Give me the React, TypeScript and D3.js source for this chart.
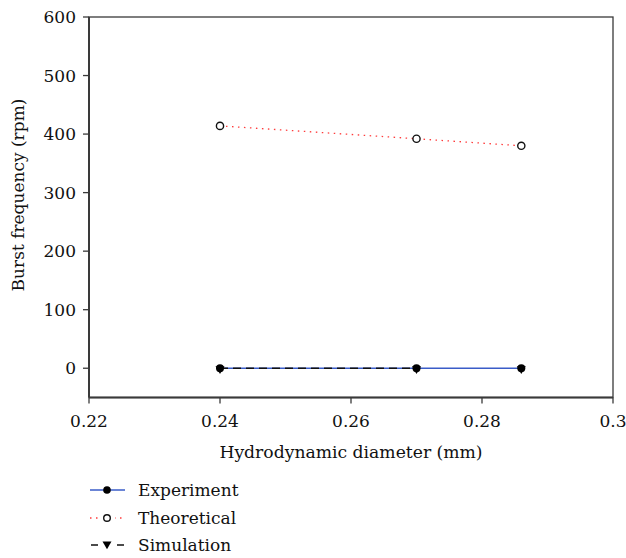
import React from "react";
import * as d3 from "d3";

const diameters = [0.24, 0.27, 0.286];
const experiment = [0, 0, 0];
const theoretical = [414, 392, 380];
const simulation = [0, 0, 0];
const simulationLineCount = 2;
const xTicks = [0.22, 0.24, 0.26, 0.28, 0.3];
const yTicks = [0, 100, 200, 300, 400, 500, 600];
const xTickLabels = ["0.22", "0.24", "0.26", "0.28", "0.3"];
const legendLabels = ["Experiment", "Theoretical", "Simulation"];

const W = 626, H = 558;
const m = { left: 89, right: 613, top: 17, bottom: 397.5 };
const FONT = "DejaVu Serif";
const AXIS = "#3a3a3a";

export default function App() {
  const x = d3.scaleLinear().domain([0.22, 0.3]).range([m.left, m.right]);
  const y = d3.scaleLinear().domain([-50, 600]).range([m.bottom, m.top]);
  const line = d3.line<[number, number]>().x(d => x(d[0])).y(d => y(d[1]));
  const expPts = diameters.map((d, i) => [d, experiment[i]] as [number, number]);
  const thPts = diameters.map((d, i) => [d, theoretical[i]] as [number, number]);
  const simPts = diameters.map((d, i) => [d, simulation[i]] as [number, number]);
  const tri = (cx: number, cy: number, s: number) =>
    `M${cx - s},${cy - s * 0.8}L${cx + s},${cy - s * 0.8}L${cx},${cy + s * 0.95}Z`;

  const legY = [490, 518, 545];
  const lx1 = 90, lx2 = 125, lmx = 107;

  return (
    <svg width={W} height={H} style={{ position: "absolute", left: 0, top: 0, background: "#fff" }}>
      <rect x={0} y={0} width={W} height={H} fill="#fff" />
      <path d={line(expPts) || ""} fill="none" stroke="#3a5cc8" strokeWidth={1.3} />
      <path d={line(simPts.slice(0, simulationLineCount)) || ""} fill="none" stroke="#111" strokeWidth={1.3} strokeDasharray="8,5" />
      <path d={line(thPts) || ""} fill="none" stroke="#ff3b3b" strokeWidth={1.3} strokeDasharray="1.5,4.5" />
      {expPts.map((p, i) => (
        <circle key={"e" + i} cx={x(p[0])} cy={y(p[1])} r={4} fill="#000" />
      ))}
      {simPts.map((p, i) => (
        <path key={"s" + i} d={tri(x(p[0]), y(p[1]) + 1.5, 4.5)} fill="#000" />
      ))}
      {thPts.map((p, i) => (
        <circle key={"t" + i} cx={x(p[0])} cy={y(p[1])} r={3.6} fill="#fff" stroke="#111" strokeWidth={1.4} />
      ))}
      <rect x={m.left} y={m.top} width={m.right - m.left} height={m.bottom - m.top} fill="none" stroke={AXIS} strokeWidth={1.3} />
      <line x1={m.left} x2={m.left} y1={m.top} y2={m.bottom} stroke={AXIS} strokeWidth={2} />
      <line x1={m.left} x2={m.right} y1={m.bottom} y2={m.bottom} stroke={AXIS} strokeWidth={2} />
      {yTicks.map(t => (
        <g key={"yt" + t}>
          <line x1={m.left - 6} x2={m.left} y1={y(t)} y2={y(t)} stroke={AXIS} strokeWidth={1.3} />
          <text x={m.left - 13} y={y(t)} dy="0.36em" textAnchor="end" fontFamily={FONT} fontSize={17} fill="#111">{t}</text>
        </g>
      ))}
      {xTicks.map((t, i) => (
        <g key={"xt" + t}>
          <line x1={x(t)} x2={x(t)} y1={m.bottom} y2={m.bottom + 6} stroke={AXIS} strokeWidth={1.3} />
          <text x={x(t)} y={427} textAnchor="middle" fontFamily={FONT} fontSize={17} fill="#111">{xTickLabels[i]}</text>
        </g>
      ))}
      <text x={351} y={458} textAnchor="middle" fontFamily={FONT} fontSize={17.2} fill="#111">Hydrodynamic diameter (mm)</text>
      <text transform={`translate(24,195) rotate(-90)`} textAnchor="middle" fontFamily={FONT} fontSize={17} fill="#111">Burst frequency (rpm)</text>
      <line x1={lx1} x2={lx2} y1={legY[0]} y2={legY[0]} stroke="#3a5cc8" strokeWidth={1.3} />
      <circle cx={lmx} cy={legY[0]} r={3.8} fill="#000" />
      <line x1={lx1} x2={lx2} y1={legY[1]} y2={legY[1]} stroke="#ff3b3b" strokeWidth={1.3} strokeDasharray="1.5,4.5" />
      <rect x={lmx - 8} y={legY[1] - 3} width={16} height={6} fill="#fff" />
      <circle cx={lmx} cy={legY[1]} r={3.3} fill="#fff" stroke="#111" strokeWidth={1.4} />
      <line x1={lx1} x2={lx2} y1={legY[2]} y2={legY[2]} stroke="#111" strokeWidth={1.3} strokeDasharray="7,6" strokeDashoffset={-1} />
      <rect x={lmx - 8} y={legY[2] - 5} width={16} height={10} fill="#fff" />
      <path d={tri(lmx, legY[2], 4.5)} fill="#000" />
      {legendLabels.map((l, i) => (
        <text key={l} x={138} y={legY[i]} dy="0.36em" fontFamily={FONT} fontSize={17} fill="#111">{l}</text>
      ))}
    </svg>
  );
}
